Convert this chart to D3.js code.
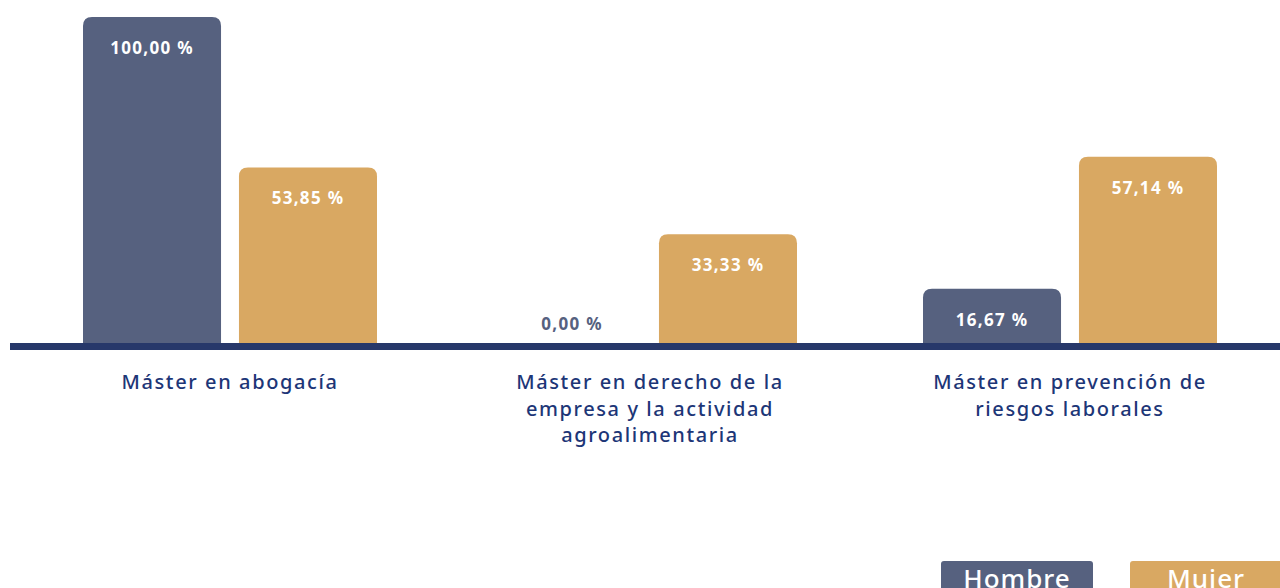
<!DOCTYPE html>
<html>
<head>
<meta charset="utf-8">
<script src="https://cdn.jsdelivr.net/npm/d3@7"></script>
<style>
  body { margin: 0; background: #fff; }
  svg { display: block; font-family: "Noto Sans", sans-serif; }
</style>
</head>
<body>
<svg id="chart"></svg>
<script>
// data
let categories = [
  ["Máster en abogacía"],
  ["Máster en derecho de la", "empresa y la actividad", "agroalimentaria"],
  ["Máster en prevención de", "riesgos laborales"]
];
let series = ["Hombre", "Mujer"];
let hombre = [100.00, 0.00, 16.67];
let mujer = [53.85, 33.33, 57.14];

let width = 1280, height = 588;
let colors = { Hombre: "#56617f", Mujer: "#d9a862" };
let baseY = 343;

let svg = d3.select("#chart")
  .attr("width", width)
  .attr("height", height);

let x0 = d3.scaleBand()
  .domain(d3.range(categories.length))
  .range([20, 1280]);

let x1 = d3.scaleBand()
  .domain(series)
  .range([-147, 147])
  .paddingInner(0.115);

let y = d3.scaleLinear()
  .domain([0, 100])
  .range([baseY, 17]);

let fmt = v => v.toFixed(2).replace(".", ",") + " %";

let rows = categories.map((c, i) => ({ i, Hombre: hombre[i], Mujer: mujer[i] }));

// bar with rounded top corners only
function topRounded(x, yTop, w, h, r) {
  r = Math.min(r, h, w / 2);
  return "M" + x + "," + (yTop + h) +
    "V" + (yTop + r) +
    "Q" + x + "," + yTop + " " + (x + r) + "," + yTop +
    "H" + (x + w - r) +
    "Q" + (x + w) + "," + yTop + " " + (x + w) + "," + (yTop + r) +
    "V" + (yTop + h) + "Z";
}

let g = svg.selectAll(".grp")
  .data(rows)
  .enter().append("g")
  .attr("class", "grp")
  .attr("transform", d => "translate(" + (x0(d.i) + x0.bandwidth() / 2) + ",0)");

let bars = g.selectAll(".bar")
  .data(d => series.map(s => ({ s, v: d[s] })))
  .enter();

bars.filter(d => d.v > 0).append("path")
  .attr("class", "bar")
  .attr("fill", d => colors[d.s])
  .attr("d", d => topRounded(x1(d.s), y(d.v), x1.bandwidth(), baseY - y(d.v) + 2, 9));

bars.append("text")
  .attr("x", d => x1(d.s) + x1.bandwidth() / 2)
  .attr("y", d => d.v > 0 ? y(d.v) + 37 : baseY - 13)
  .attr("text-anchor", "middle")
  .attr("font-size", 17)
  .attr("font-weight", 700)
  .attr("letter-spacing", 1.3)
  .attr("fill", d => d.v > 0 ? "#ffffff" : colors.Hombre)
  .text(d => fmt(d.v));

// baseline
svg.append("rect")
  .attr("x", 10)
  .attr("y", baseY)
  .attr("width", width - 10)
  .attr("height", 7)
  .attr("fill", "#27386a");

// category labels
g.append("text")
  .attr("text-anchor", "middle")
  .attr("font-size", 20)
  .attr("font-weight", 500)
  .attr("letter-spacing", 1.6)
  .attr("fill", "#1d3677")
  .selectAll("tspan")
  .data(d => categories[d.i])
  .enter().append("tspan")
  .attr("x", 0)
  .attr("y", (d, i) => 389 + i * 26.5)
  .text(d => d);

// legend
let legend = svg.selectAll(".leg")
  .data(series)
  .enter().append("g")
  .attr("class", "leg")
  .attr("transform", (d, i) => "translate(" + [941, 1130][i] + ",561)");

legend.append("rect")
  .attr("width", 152)
  .attr("height", 40)
  .attr("rx", 3)
  .attr("fill", d => colors[d]);

legend.append("text")
  .attr("x", 76)
  .attr("y", 27)
  .attr("text-anchor", "middle")
  .attr("font-size", 26)
  .attr("font-weight", 500)
  .attr("letter-spacing", 1)
  .attr("fill", "#fff")
  .text(d => d);
</script>
</body>
</html>
